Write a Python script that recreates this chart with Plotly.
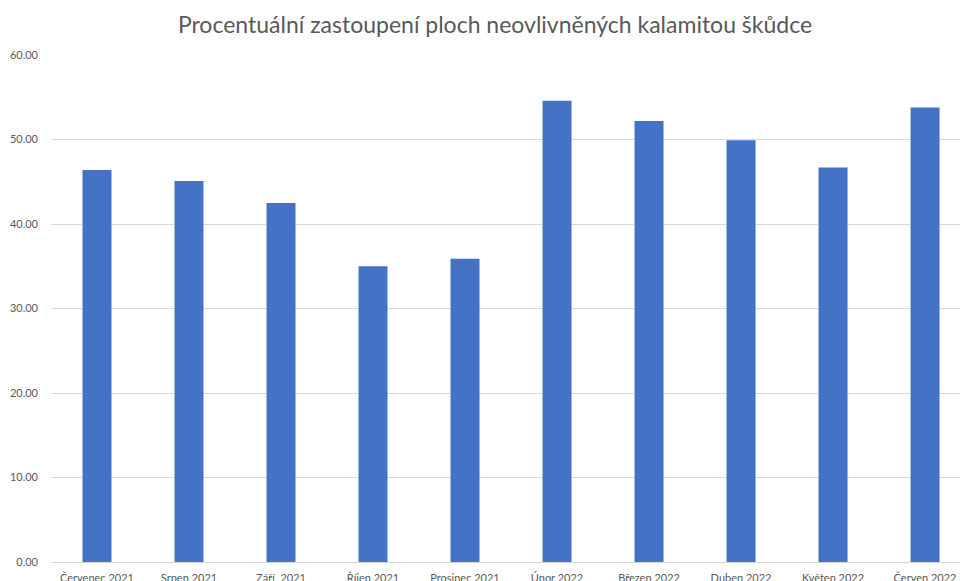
import plotly.graph_objects as go

# Monthly share of areas not affected by the pest calamity (%)
months = [
    "Červenec 2021", "Srpen 2021", "Září  2021", "Říjen 2021", "Prosinec 2021",
    "Únor 2022", "Březen 2022", "Duben 2022", "Květen 2022", "Červen 2022",
]
share = [46.4, 45.1, 42.5, 35.0, 35.9, 54.6, 52.2, 49.9, 46.7, 53.8]

y_ticks = [0, 10, 20, 30, 40, 50, 60]

fig = go.Figure(
    go.Bar(
        x=list(range(len(months))),
        y=share,
        marker=dict(color="#4472C4", line=dict(width=0)),
        hoverinfo="y",
    )
)

fig.update_layout(
    width=960,
    height=581,
    margin=dict(l=51, r=0, t=55, b=19),
    paper_bgcolor="white",
    plot_bgcolor="white",
    bargap=0.685,
    showlegend=False,
    title=dict(
        text="Procentuální zastoupení ploch neovlivněných kalamitou škůdce",
        x=495 / 960,
        xanchor="center",
        xref="container",
        y=1 - 25 / 581,
        yanchor="middle",
        font=dict(family="Lato", size=23, color="#595959"),
    ),
    font=dict(family="Lato", size=11, color="#595959"),
)

fig.update_xaxes(
    tickmode="array",
    tickvals=list(range(len(months))),
    ticktext=months,
    range=[-0.5, 9.38],
    showgrid=False,
    showline=True,
    linecolor="#d9d9d9",
    linewidth=1,
    ticks="",
    ticklabelstandoff=6,
    automargin=False,
    tickfont=dict(size=11, color="#595959"),
)

fig.update_yaxes(
    range=[0, 60],
    tickvals=y_ticks,
    tickformat=".2f",
    showgrid=True,
    gridcolor="#d9d9d9",
    gridwidth=1,
    zeroline=False,
    ticks="",
    ticklabelstandoff=12,
    automargin=False,
    tickfont=dict(size=11, color="#595959"),
)

fig.write_html("out.html")
